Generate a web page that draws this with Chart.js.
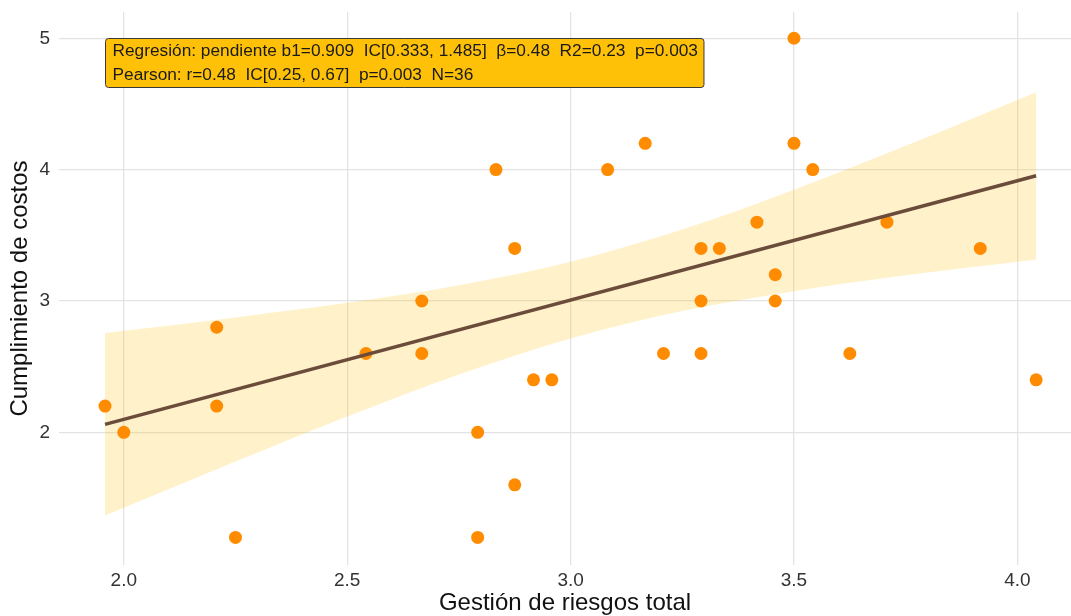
<!DOCTYPE html>
<html>
<head>
<meta charset="utf-8">
<title>Gestión de riesgos vs Cumplimiento de costos</title>
<script src="https://cdn.jsdelivr.net/npm/chart.js@4"></script>
<style>
  html, body { margin: 0; padding: 0; background: #fff; overflow: hidden; }
</style>
</head>
<body>
<canvas id="grafico" width="1071" height="616"></canvas>
<script>
// datos
const gestionRiesgos = [1.958, 2.0, 2.208, 2.208, 2.25, 2.542, 2.667, 2.667, 2.792, 2.792, 2.833, 2.875, 2.875, 2.917, 2.958, 3.083,
  3.167, 3.208, 3.292, 3.292, 3.292, 3.333, 3.417, 3.458, 3.458, 3.5, 3.5, 3.542, 3.625, 3.708, 3.917, 4.042];
const cumplimientoCostos = [2.2, 2.0, 2.8, 2.2, 1.2, 2.6, 3.0, 2.6, 2.0, 1.2, 4.0, 3.4, 1.6, 2.4, 2.4, 4.0,
  4.2, 2.6, 3.4, 3.0, 2.6, 3.4, 3.6, 3.2, 3.0, 5.0, 4.2, 4.0, 2.6, 3.6, 3.4, 2.4];

// recta de regresion
const ajusteX = [1.958, 4.042];
const ajusteY = [2.061, 3.953];

// banda de confianza
const bandaX = [1.958, 2.25, 2.5, 2.75, 3.0, 3.25, 3.5, 3.75, 4.042];
const bandaSup = [2.756, 2.875, 2.986, 3.120, 3.299, 3.544, 3.847, 4.181, 4.590];
const bandaInf = [1.366, 1.777, 2.120, 2.440, 2.715, 2.924, 3.075, 3.195, 3.316];

const ticksX = [2.0, 2.5, 3.0, 3.5, 4.0];
const ticksY = [2, 3, 4, 5];

const textoResumen = [
  'Regresión: pendiente b1=0.909  IC[0.333, 1.485]  β=0.48  R2=0.23  p=0.003',
  'Pearson: r=0.48  IC[0.25, 0.67]  p=0.003  N=36'
];

const FUENTE = '"Liberation Sans", Arial, Helvetica, sans-serif';

const cajaResumen = {
  id: 'cajaResumen',
  afterDatasetsDraw(chart) {
    const { ctx, scales: { x, y } } = chart;
    const left = Math.round(x.getPixelForValue(Math.min(...gestionRiesgos))) + 0.5;
    const top = Math.round(y.getPixelForValue(Math.max(...cumplimientoCostos))) + 0.5;
    ctx.save();
    ctx.font = '17.3px ' + FUENTE;
    const w = Math.max(...textoResumen.map(t => ctx.measureText(t).width)) + 13;
    const h = 49;
    ctx.beginPath();
    if (ctx.roundRect) ctx.roundRect(left, top, w, h, 3);
    else ctx.rect(left, top, w, h);
    ctx.fillStyle = '#FFC107';
    ctx.fill();
    ctx.strokeStyle = '#3a3a3a';
    ctx.lineWidth = 1;
    ctx.stroke();
    ctx.fillStyle = '#1a1a1a';
    ctx.textBaseline = 'middle';
    textoResumen.forEach((t, i) => ctx.fillText(t, left + 7, top + 12.5 + i * 24));
    ctx.restore();
  }
};

new Chart(document.getElementById('grafico'), {
  type: 'line',
  data: {
    datasets: [
      {
        label: 'IC superior',
        data: bandaX.map((v, i) => ({ x: v, y: bandaSup[i] })),
        borderWidth: 0,
        pointRadius: 0,
        fill: '+1',
        backgroundColor: 'rgba(255, 193, 7, 0.22)',
        cubicInterpolationMode: 'monotone',
        order: 3
      },
      {
        label: 'IC inferior',
        data: bandaX.map((v, i) => ({ x: v, y: bandaInf[i] })),
        borderWidth: 0,
        pointRadius: 0,
        fill: false,
        cubicInterpolationMode: 'monotone',
        order: 3
      },
      {
        label: 'Observaciones',
        data: gestionRiesgos.map((v, i) => ({ x: v, y: cumplimientoCostos[i] })),
        showLine: false,
        pointRadius: 6.5,
        pointBackgroundColor: '#FF8C00',
        pointBorderWidth: 0,
        order: 2
      },
      {
        label: 'Ajuste',
        data: ajusteX.map((v, i) => ({ x: v, y: ajusteY[i] })),
        borderColor: '#6B4C3B',
        borderWidth: 3.5,
        pointRadius: 0,
        fill: false,
        order: 1
      }
    ]
  },
  options: {
    responsive: false,
    animation: false,
    layout: { autoPadding: false, padding: { top: 12, left: 0, right: 0, bottom: 0 } },
    plugins: {
      legend: { display: false },
      tooltip: { enabled: false }
    },
    scales: {
      x: {
        type: 'linear',
        min: 1.855,
        max: 4.12,
        afterBuildTicks: s => { s.ticks = ticksX.map(v => ({ value: v })); },
        afterFit: s => { s.height = 51; s.paddingLeft = 0; s.paddingRight = 0; },
        grid: { color: '#e3e3e3', lineWidth: 1.3, drawTicks: false },
        border: { display: false },
        ticks: {
          autoSkip: false, maxRotation: 0, padding: 4, color: '#333',
          font: { size: 19, family: FUENTE },
          callback: v => Number(v).toFixed(1)
        },
        title: {
          display: true, text: 'Gestión de riesgos total', color: '#111',
          font: { size: 24, family: FUENTE, lineHeight: 1 },
          padding: { top: 0, bottom: 1 }
        }
      },
      y: {
        type: 'linear',
        min: 0.99,
        max: 5.2,
        afterBuildTicks: s => { s.ticks = ticksY.map(v => ({ value: v })); },
        afterFit: s => { s.width = 59; s.paddingTop = 0; s.paddingBottom = 0; },
        grid: { color: '#e3e3e3', lineWidth: 1.3, drawTicks: false },
        border: { display: false },
        ticks: {
          autoSkip: false, padding: 9, color: '#333',
          font: { size: 19, family: FUENTE },
          callback: v => String(v)
        },
        title: {
          display: true, text: 'Cumplimiento de costos', color: '#111',
          font: { size: 24, family: FUENTE, lineHeight: 1 },
          padding: { top: 8, bottom: 0 }
        }
      }
    }
  },
  plugins: [cajaResumen]
});
</script>
</body>
</html>
